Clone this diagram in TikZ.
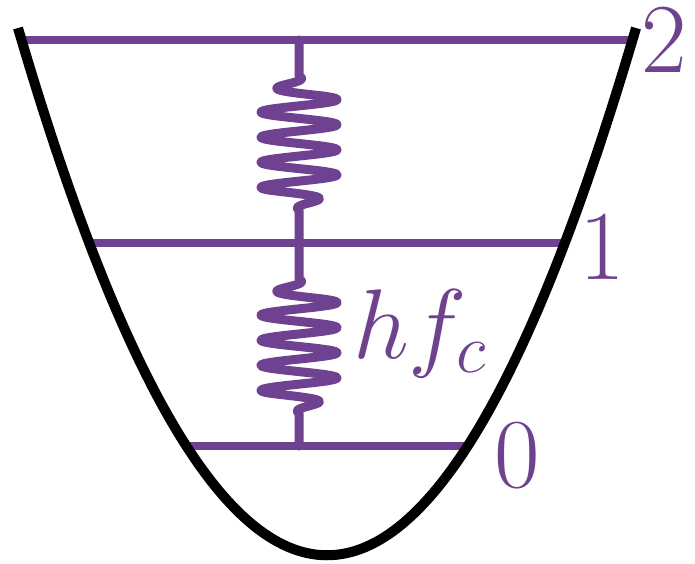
\RequirePackage{fix-cm}
\documentclass[tikz,border=0pt]{standalone}
\definecolor{lvl}{RGB}{110,65,145}
\tikzset{
  level/.style={draw=lvl, line width=8pt},
  spring/.style={draw=lvl, line width=9pt, line join=round, line cap=round},
  well/.style={draw=black, line width=10pt},
  lab/.style={text=lvl, inner sep=0pt, font=\fontsize{99}{104}\selectfont}
}
\begin{document}
\begin{tikzpicture}[x=1pt, y=-1pt]
\useasboundingbox (0,0) rectangle (695,564);
% level end points
\coordinate (t1) at (19,40);  \coordinate (t2) at (635,40);
\coordinate (m1) at (89,243); \coordinate (m2) at (565,243);
\coordinate (b1) at (187,446); \coordinate (b2) at (467,446);
\coordinate (st) at (299,40); \coordinate (sm) at (299,243); \coordinate (sb) at (299,446);
\coordinate (wl) at (18,28); \coordinate (wr) at (636,28);
\coordinate (wc1) at (224,731); \coordinate (wc2) at (430,731);
% levels
\draw[level] (t1) -- (t2);
\draw[level] (m1) -- (m2);
\draw[level] (b1) -- (b2);
% springs
\draw[spring] (st) -- (299,72) -- plot[variable=\t, domain=72:214, samples=220, smooth]
   ({299 - 38*min(1, max(0,(\t-76)/20), max(0,(210-\t)/20))*sin(14.343*(\t-80.75))}, {\t}) -- (sm);
\draw[spring] (sm) -- (299,275) -- plot[variable=\t, domain=72:214, samples=220, smooth]
   ({299 - 38*min(1, max(0,(\t-76)/20), max(0,(210-\t)/20))*sin(14.343*(\t-80.75))}, {\t+203}) -- (sb);
% well
\draw[well] (wl) .. controls (wc1) and (wc2) .. (wr);
% labels
\node[lab, anchor=base west] (n2) at (641,73) {2};
\node[lab, anchor=base west] (n1) at (579,279) {1};
\node[lab, anchor=base west] (n0) at (494,487) {0};
\node[lab, anchor=base west] (hf) at (353,358) {$hf_c$};
\end{tikzpicture}
\end{document}
